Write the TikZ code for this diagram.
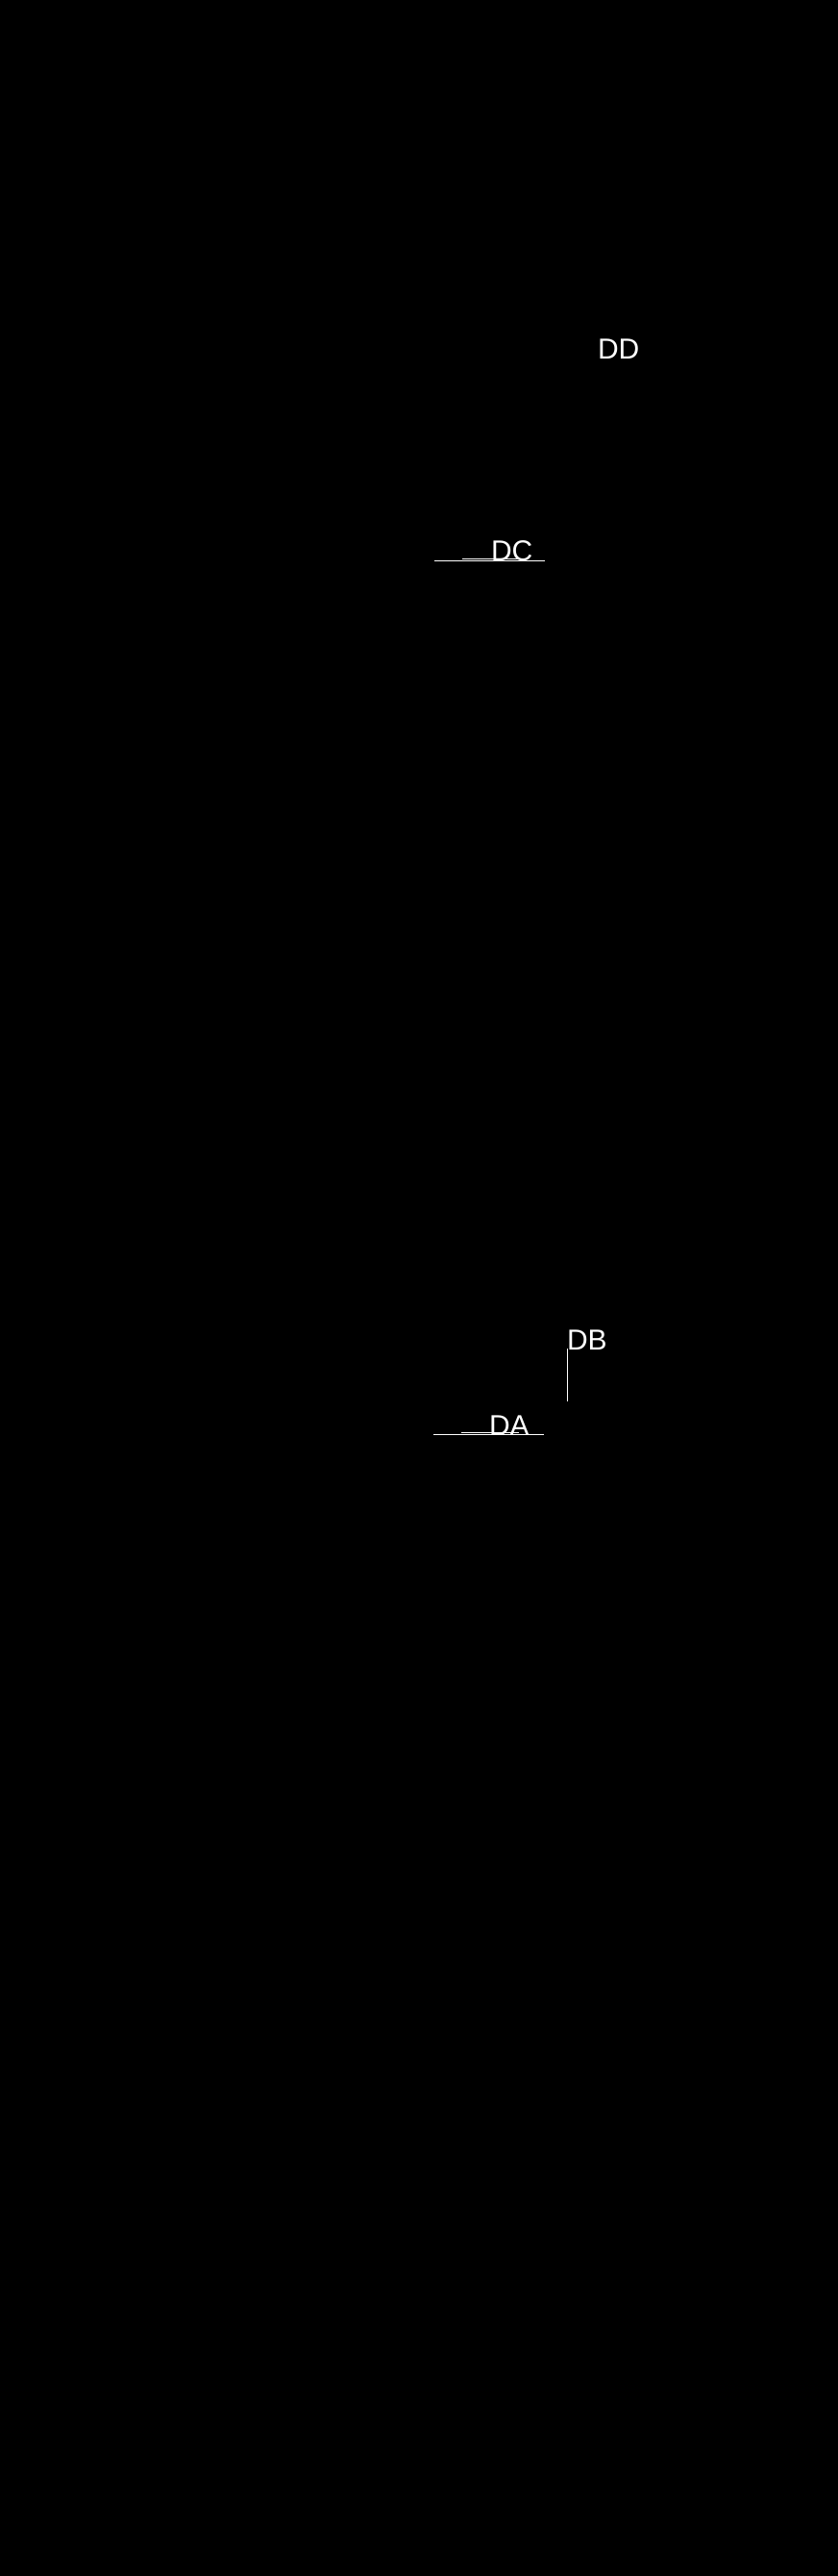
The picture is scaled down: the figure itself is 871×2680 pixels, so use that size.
\documentclass[tikz,border=0pt]{standalone}
\usepackage{fontspec}
\setmainfont{Liberation Sans}
\begin{document}
\begin{tikzpicture}[x=1pt,y=-1pt,
  lbl/.style={anchor=base west,inner sep=0pt,outer sep=0pt,text=white,font=\fontsize{30}{30}\selectfont},
  wline/.style={draw=white,line width=1pt}]
\useasboundingbox (0,0) rectangle (871,2680);
\fill[black] (-5,-5) rectangle (876,2685);
\node[lbl] (dd) at (622,373) {DD};
\node[lbl] (dc) at (511,583) {DC};
\node[lbl] (db) at (590,1404) {DB};
\node[lbl] (da) at (509,1493) {DA};
% DC underline
\coordinate (dcL) at (452,583);
\coordinate (dcR) at (567,583);
\coordinate (dcl2) at (481,581.5);
\coordinate (dcr2) at (540,581.5);
\draw[wline] (dcL) -- (dcR);
\draw[draw=white,line width=0.6pt] (dcl2) -- (dcr2);
% DB leader
\coordinate (dbT) at (590,1403);
\coordinate (dbB) at (590,1458);
\draw[wline] (dbT) -- (dbB);
% DA underline
\coordinate (daL) at (451,1492);
\coordinate (daR) at (566,1492);
\coordinate (dal2) at (480,1490.5);
\coordinate (dar2) at (540,1490.5);
\draw[wline] (daL) -- (daR);
\draw[draw=white,line width=0.6pt] (dal2) -- (dar2);
\end{tikzpicture}
\end{document}
